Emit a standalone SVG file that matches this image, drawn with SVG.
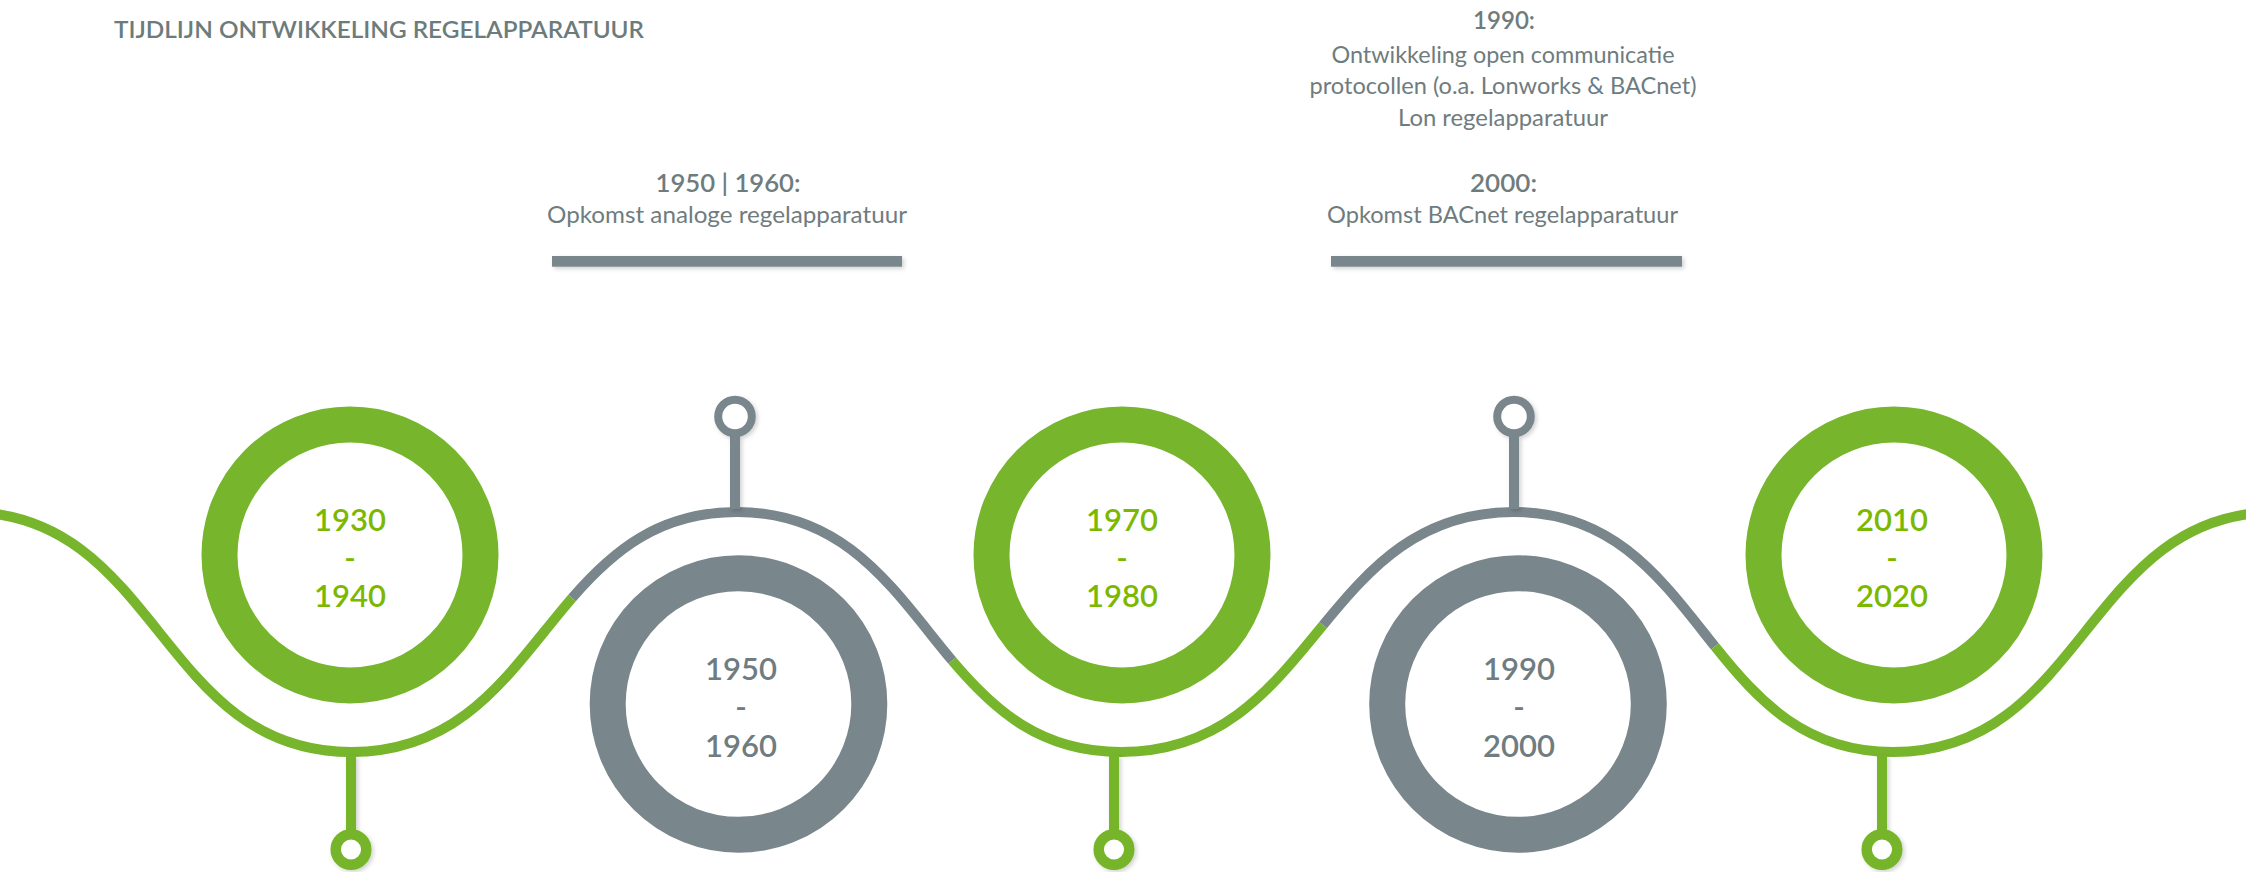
<svg xmlns="http://www.w3.org/2000/svg" width="2246" height="872" viewBox="0 0 2246 872">
<defs>
<filter id="sh" x="-50%" y="-50%" width="200%" height="200%">
<feDropShadow dx="2" dy="2" stdDeviation="2" flood-color="#000" flood-opacity="0.18"/>
</filter>
<style>
.bg{fill:#ffffff}
.wg{fill:none;stroke:#76b52c;stroke-width:10}
.wy{fill:none;stroke:#79868c;stroke-width:10}
.ring-g{fill:none;stroke:#76b52c;stroke-width:36}
.ring-y{fill:none;stroke:#79868c;stroke-width:36}
.stem-g{stroke:#76b52c;stroke-width:10}
.stem-y{stroke:#79868c;stroke-width:10}
.pin-g{fill:#fff;stroke:#76b52c;stroke-width:10.5}
.pin-y{fill:#fff;stroke:#79868c;stroke-width:8}
.yr{font-family:Lato,"Liberation Sans",sans-serif;font-size:31px;font-weight:600;text-anchor:middle}
.yr-g{fill:#7bb800}
.yr-y{fill:#6f7c80}
.title{font-family:Lato,"Liberation Sans",sans-serif;font-size:23px;font-weight:600;fill:#6c7b7b}
.hd{font-family:Lato,"Liberation Sans",sans-serif;font-size:25px;font-weight:600;fill:#6f7c7e;text-anchor:middle}
.tx{font-family:Lato,"Liberation Sans",sans-serif;font-size:23px;font-weight:400;fill:#6f7c7e;text-anchor:middle}
.bar{fill:#79868c}
</style>
</defs>
<rect class="bg" x="0" y="0" width="2246" height="872"/>

<g id="title">
<text class="title" x="114" y="38" textLength="530" lengthAdjust="spacingAndGlyphs">TIJDLIJN ONTWIKKELING REGELAPPARATUUR</text>
</g>

<g id="note-1950">
<text class="hd" x="728" y="191.5" textLength="145" lengthAdjust="spacingAndGlyphs">1950 | 1960:</text>
<text class="tx" x="727" y="223" textLength="360" lengthAdjust="spacingAndGlyphs">Opkomst analoge regelapparatuur</text>
<rect class="bar" x="552" y="256" width="350" height="10.7" filter="url(#sh)"/>
</g>

<g id="note-1990">
<text class="hd" x="1504" y="29.3" textLength="62" lengthAdjust="spacingAndGlyphs">1990:</text>
<text class="tx" x="1503" y="62.7" textLength="343" lengthAdjust="spacingAndGlyphs">Ontwikkeling open communicatie</text>
<text class="tx" x="1503" y="94.3" textLength="387" lengthAdjust="spacingAndGlyphs">protocollen (o.a. Lonworks &amp; BACnet)</text>
<text class="tx" x="1503" y="126" textLength="210" lengthAdjust="spacingAndGlyphs">Lon regelapparatuur</text>
<text class="hd" x="1503.5" y="191.7" textLength="67" lengthAdjust="spacingAndGlyphs">2000:</text>
<text class="tx" x="1502.5" y="222.7" textLength="351" lengthAdjust="spacingAndGlyphs">Opkomst BACnet regelapparatuur</text>
<rect class="bar" x="1331" y="256" width="351" height="10.7" filter="url(#sh)"/>
</g>

<g id="connectors">
<path class="wg" d="M-33,512 C159,512 159,752 351,752 C466,752 512.5,666.75 572.1,597.9"/>
<path class="wy" d="M572.1,597.9 C612.5,551.2 659,512 737,512 C848.4,512 895.1,592.7 952.2,660.6"/>
<path class="wg" d="M952.2,660.6 C993.6,709.7 1040.4,752 1121,752 C1223,752 1272,687.3 1323.1,625.1"/>
<path class="wy" d="M1323.1,625.1 C1370.4,567.5 1419.5,512 1514,512 C1616.3,512 1663.4,582 1714.9,646.4"/>
<path class="wg" d="M1714.9,646.4 C1758.7,701.2 1805.8,752 1893,752 C2085,752 2085,512 2277,512"/>
</g>

<g id="node-1930">
<circle class="ring-g" cx="350" cy="555" r="130.5"/>
<text class="yr yr-g" x="350" y="531">1930</text>
<text class="yr yr-g" x="350" y="569">-</text>
<text class="yr yr-g" x="350" y="607">1940</text>
<g filter="url(#sh)">
<line class="stem-g" x1="351" y1="755" x2="351" y2="834"/>
<circle class="pin-g" cx="351" cy="849.5" r="15.3"/>
</g>
</g>

<g id="node-1950">
<circle class="ring-y" cx="738.5" cy="704" r="130.8"/>
<text class="yr yr-y" x="741" y="679.5">1950</text>
<text class="yr yr-y" x="741" y="718">-</text>
<text class="yr yr-y" x="741" y="756.5">1960</text>
<g filter="url(#sh)">
<line class="stem-y" x1="735" y1="433" x2="735" y2="509"/>
<circle class="pin-y" cx="735" cy="416.5" r="16.8"/>
</g>
</g>

<g id="node-1970">
<circle class="ring-g" cx="1122" cy="555" r="130.5"/>
<text class="yr yr-g" x="1122" y="531">1970</text>
<text class="yr yr-g" x="1122" y="569">-</text>
<text class="yr yr-g" x="1122" y="607">1980</text>
<g filter="url(#sh)">
<line class="stem-g" x1="1114" y1="755" x2="1114" y2="834"/>
<circle class="pin-g" cx="1114" cy="849.5" r="15.3"/>
</g>
</g>

<g id="node-1990">
<circle class="ring-y" cx="1518" cy="704" r="130.8"/>
<text class="yr yr-y" x="1519" y="679.5">1990</text>
<text class="yr yr-y" x="1519" y="718">-</text>
<text class="yr yr-y" x="1519" y="756.5">2000</text>
<g filter="url(#sh)">
<line class="stem-y" x1="1514" y1="433" x2="1514" y2="509"/>
<circle class="pin-y" cx="1514" cy="416.5" r="16.8"/>
</g>
</g>

<g id="node-2010">
<circle class="ring-g" cx="1894" cy="555" r="130.5"/>
<text class="yr yr-g" x="1892" y="531">2010</text>
<text class="yr yr-g" x="1892" y="569">-</text>
<text class="yr yr-g" x="1892" y="607">2020</text>
<g filter="url(#sh)">
<line class="stem-g" x1="1882" y1="755" x2="1882" y2="834"/>
<circle class="pin-g" cx="1882" cy="849.5" r="15.3"/>
</g>
</g>
</svg>
